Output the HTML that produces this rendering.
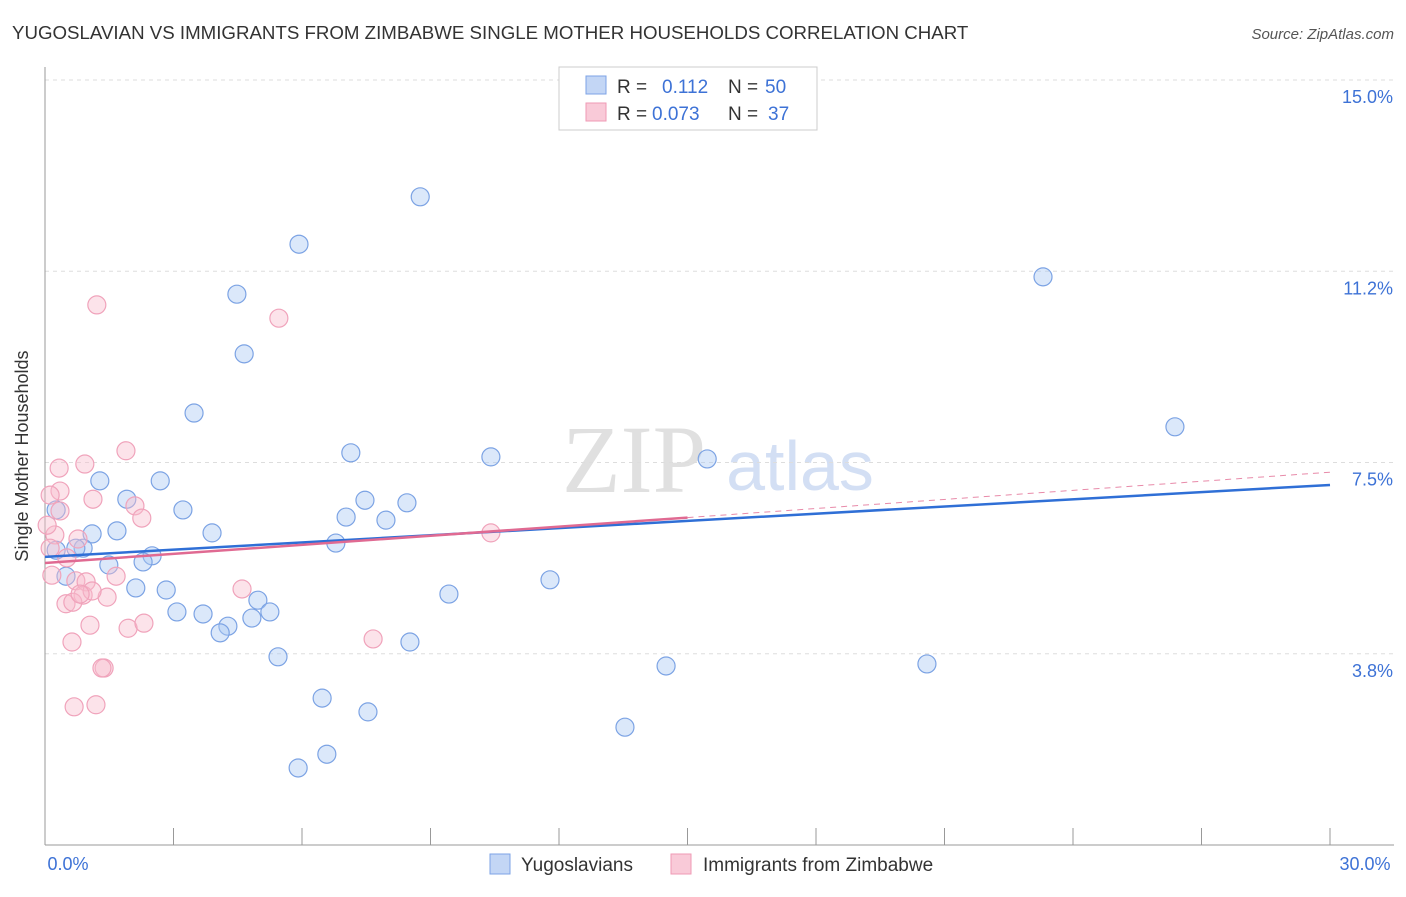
<!DOCTYPE html>
<html><head><meta charset="utf-8"><style>
body{margin:0;background:#fff;font-family:"Liberation Sans",sans-serif}
svg text{font-family:"Liberation Sans",sans-serif}
</style></head><body>
<svg id="c" width="1406" height="892" xmlns="http://www.w3.org/2000/svg">
<text x="12" y="39" font-size="18.7" fill="#333">YUGOSLAVIAN VS IMMIGRANTS FROM ZIMBABWE SINGLE MOTHER HOUSEHOLDS CORRELATION CHART</text>
<text x="1394" y="39" font-size="15" fill="#555" text-anchor="end" font-style="italic">Source: ZipAtlas.com</text>
<g>
<text x="634" y="492" font-size="96" fill="#e0e0e0" text-anchor="middle" font-family="Liberation Serif" style="font-family:'Liberation Serif',serif">ZIP</text>
<text x="800" y="490" font-size="70" fill="#d3dff4" text-anchor="middle">atlas</text>
</g>
<g id="grid"></g><g id="axes"></g><g id="marks"></g>
<text transform="translate(28,456) rotate(-90)" font-size="18" fill="#333" text-anchor="middle">Single Mother Households</text>
<g>
<rect x="559" y="67" width="258" height="63" fill="#fff" stroke="#ccc"/>
<rect x="586" y="76" width="20" height="18" fill="#c3d6f5" stroke="#7da3e6"/>
<rect x="586" y="103" width="20" height="18" fill="#f9cad8" stroke="#ef9ab5"/>
<text x="617" y="93" font-size="19" fill="#333">R = </text><text x="662" y="93" font-size="19" fill="#3d72d6">0.112</text>
<text x="728" y="93" font-size="19" fill="#333">N = </text><text x="765" y="93" font-size="19" fill="#3d72d6">50</text>
<text x="617" y="120" font-size="19" fill="#333">R = </text><text x="652" y="120" font-size="19" fill="#3d72d6">0.073</text>
<text x="728" y="120" font-size="19" fill="#333">N = </text><text x="768" y="120" font-size="19" fill="#3d72d6">37</text>
</g>
<g>
<rect x="490" y="854" width="20" height="20" fill="#c3d6f5" stroke="#7da3e6"/>
<text x="521" y="871" font-size="19" fill="#333">Yugoslavians</text>
<rect x="671" y="854" width="20" height="20" fill="#f9cad8" stroke="#ef9ab5"/>
<text x="703" y="871" font-size="19" fill="#333">Immigrants from Zimbabwe</text>
</g>
</svg>
<script>
const yTicks=[15.0,11.25,7.5,3.75];
const yTickLabels=["15.0%","11.2%","7.5%","3.8%"];
const xTickCount=10;
const blueX=[8.76,5.93,4.48,23.30,4.65,3.48,26.38,7.14,10.41,15.46,1.28,2.69,1.91,7.47,8.45,3.22,7.03,7.96,0.26,1.10,1.68,3.90,6.79,0.89,0.26,2.50,2.29,1.49,0.49,11.79,2.12,2.83,9.43,4.97,3.08,3.69,5.25,4.83,4.27,4.09,8.52,5.44,14.50,20.59,6.47,7.54,13.54,6.58,5.91,0.72];
const blueY=[12.71,11.78,10.80,11.14,9.63,8.47,8.20,7.69,7.61,7.57,7.14,7.14,6.78,6.76,6.71,6.57,6.43,6.37,6.57,6.10,6.16,6.12,5.92,5.82,5.78,5.67,5.55,5.49,5.27,5.20,5.04,5.00,4.92,4.80,4.57,4.53,4.57,4.45,4.29,4.16,3.98,3.69,3.51,3.55,2.88,2.61,2.31,1.78,1.51,5.82];
const pinkX=[1.21,5.46,1.89,0.33,0.93,0.35,1.12,2.10,0.35,2.26,0.23,0.77,0.12,0.51,1.66,0.72,0.96,4.60,1.45,0.89,1.10,0.49,0.65,1.05,1.94,2.31,7.66,0.63,1.38,1.33,0.68,1.19,10.41,0.12,0.05,0.82,0.16];
const pinkY=[10.59,10.33,7.73,7.39,7.47,6.94,6.78,6.65,6.55,6.41,6.08,6.00,5.82,5.63,5.27,5.18,5.16,5.02,4.86,4.90,4.98,4.73,4.76,4.31,4.25,4.35,4.04,3.98,3.47,3.47,2.71,2.75,6.12,6.86,6.27,4.92,5.29];
const blueTrend=[5.65,7.06];
const pinkTrend=[5.53,7.31];
const pinkSolidEnd=15;

const NS="http://www.w3.org/2000/svg";
const X0=45,X1=1330,Y0=80,PXV=51.0;
const xs=v=>X0+v/30*(X1-X0);
const ys=v=>Y0+(15-v)*PXV;
function mk(t,a,p){const e=document.createElementNS(NS,t);for(const k in a)e.setAttribute(k,a[k]);p.appendChild(e);return e;}
const grid=document.getElementById('grid'),axes=document.getElementById('axes'),marks=document.getElementById('marks');
yTicks.forEach((v,i)=>{
  const l=mk('line',{x1:X0,x2:1394,y1:ys(v),y2:ys(v),stroke:'#ddd','stroke-dasharray':'4,4'},grid);
  
  
  const t=mk('text',{x:1393,y:ys(v)+23,'font-size':18,fill:'#3d72d6','text-anchor':'end'},axes);
  t.textContent=yTickLabels[i];
  
  
});
const ya=mk('line',{x1:X0,x2:X0,y1:67,y2:845,stroke:'#999'},axes);


const xa=mk('line',{x1:X0,x2:1394,y1:845,y2:845,stroke:'#999'},axes);


for(let i=1;i<=xTickCount;i++){
  const t=mk('line',{x1:xs(i*3),x2:xs(i*3),y1:828,y2:845,stroke:'#999'},axes);
  
  
}
[[0,"0.0%",68],[30,"30.0%",1365]].forEach(d=>{
  const t=mk('text',{x:d[2],y:870,'font-size':18,fill:'#3d72d6','text-anchor':'middle'},axes);
  t.textContent=d[1];
  
  
});
blueX.forEach((x,i)=>{
  const c=mk('circle',{cx:xs(x),cy:ys(blueY[i]),r:9,fill:'rgba(170,200,242,0.42)',stroke:'#7ca3e4','stroke-width':1.2},marks);
  
  
});
pinkX.forEach((x,i)=>{
  const c=mk('circle',{cx:xs(x),cy:ys(pinkY[i]),r:9,fill:'rgba(247,188,206,0.42)',stroke:'#f0a3bb','stroke-width':1.2},marks);
  
  
});
const bl=mk('line',{x1:xs(0),y1:ys(blueTrend[0]),x2:xs(30),y2:ys(blueTrend[1]),stroke:'#2f6fd6','stroke-width':2.5},marks);


const pm=pinkTrend[0]+(pinkTrend[1]-pinkTrend[0])*pinkSolidEnd/30;
const pl=mk('line',{x1:xs(0),y1:ys(pinkTrend[0]),x2:xs(pinkSolidEnd),y2:ys(pm),stroke:'#e06a92','stroke-width':2.5},marks);


const pd=mk('line',{x1:xs(pinkSolidEnd),y1:ys(pm),x2:xs(30),y2:ys(pinkTrend[1]),stroke:'#e88aa9','stroke-width':1,'stroke-dasharray':'6,5'},marks);


</script>
</body></html>
